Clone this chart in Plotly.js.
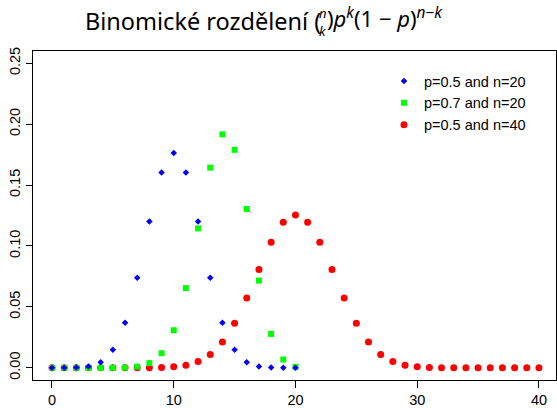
<!DOCTYPE html>
<html>
<head>
<meta charset="utf-8">
<script src="https://cdn.plot.ly/plotly-3.0.1.min.js"></script>
<style>html,body{margin:0;padding:0;background:#fff;}#chart{width:557px;height:408px;}</style>
</head>
<body>
<div id="chart"></div>
<script>
// k values
const k20 = [0,1,2,3,4,5,6,7,8,9,10,11,12,13,14,15,16,17,18,19,20];
const k40 = [0,1,2,3,4,5,6,7,8,9,10,11,12,13,14,15,16,17,18,19,20,21,22,23,24,25,26,27,28,29,30,31,32,33,34,35,36,37,38,39,40];
// P(X=k) for p=0.5, n=20
const pBlue = [0.0000,0.0000,0.0002,0.0011,0.0046,0.0148,0.0370,0.0739,0.1201,0.1602,0.1762,0.1602,0.1201,0.0739,0.0370,0.0148,0.0046,0.0011,0.0002,0.0000,0.0000];
// P(X=k) for p=0.7, n=20
const pGreen = [0.0000,0.0000,0.0000,0.0000,0.0000,0.0000,0.0002,0.0010,0.0039,0.0120,0.0308,0.0654,0.1144,0.1643,0.1916,0.1789,0.1304,0.0716,0.0278,0.0068,0.0008];
// P(X=k) for p=0.5, n=40
const pRed = [0.0000,0.0000,0.0000,0.0000,0.0000,0.0000,0.0000,0.0000,0.0001,0.0002,0.0008,0.0021,0.0051,0.0109,0.0211,0.0366,0.0572,0.0807,0.1031,0.1194,0.1254,0.1194,0.1031,0.0807,0.0572,0.0366,0.0211,0.0109,0.0051,0.0021,0.0008,0.0002,0.0001,0.0000,0.0000,0.0000,0.0000,0.0000,0.0000,0.0000,0.0000];
const labels = ['p=0.5 and n=20','p=0.7 and n=20','p=0.5 and n=40'];
const xTicks = [0,10,20,30,40];
const yTicks = [0,0.05,0.10,0.15,0.20,0.25];

const W = 557, H = 408, L = 33, R = 1, T = 51, B = 28;
const pw = W - L - R, ph = H - T - B;
const px = v => (v - L) / pw;
const py = v => (H - B - v) / ph;

const traces = [
  {x: k40, y: pRed, name: labels[2], type: 'scatter', mode: 'markers',
   marker: {symbol: 'circle', size: 7, color: '#ff0000'}, cliponaxis: false},
  {x: k20, y: pGreen, name: labels[1], type: 'scatter', mode: 'markers',
   marker: {symbol: 'square', size: 6, color: '#00ff00'}, cliponaxis: false},
  {x: k20, y: pBlue, name: labels[0], type: 'scatter', mode: 'markers',
   marker: {symbol: 'diamond', size: 5, color: '#0000ff'}, cliponaxis: false}
];

const tfam = 'Noto Sans, Open Sans, sans-serif';
const layout = {
  width: W, height: H,
  margin: {l: L, r: R, t: T, b: B, pad: 0},
  paper_bgcolor: '#fff', plot_bgcolor: '#fff',
  font: {family: 'Liberation Sans, Arial, sans-serif', size: 14.5, color: '#000'},
  showlegend: true,
  legend: {x: px(384), y: py(65), xanchor: 'left', yanchor: 'top', traceorder: 'reversed',
           bgcolor: 'rgba(0,0,0,0)', font: {size: 14.5}, itemwidth: 30, tracegroupgap: 0},
  xaxis: {range: [-1.56, 41.4], tickvals: xTicks, ticktext: xTicks.map(String),
          showgrid: false, zeroline: false, showline: true, mirror: true, linecolor: '#000', linewidth: 1,
          ticks: 'outside', ticklen: 7, tickcolor: '#000', tickfont: {size: 14.5}},
  yaxis: {range: [-0.01, 0.26], tickvals: yTicks, ticktext: yTicks.map(v => v.toFixed(2)),
          tickangle: -90, showgrid: false, zeroline: false, showline: true, mirror: true, linecolor: '#000', linewidth: 1,
          ticks: 'outside', ticklen: 6, tickcolor: '#000', tickfont: {size: 14.5}},
  annotations: [
    {xref: 'paper', yref: 'paper', x: px(84), y: py(21), xanchor: 'left', yanchor: 'middle', showarrow: false,
     borderpad: 0, text: 'Binomické rozdělení (', font: {family: tfam, size: 23.5, color: '#000'}},
    {xref: 'paper', yref: 'paper', x: px(322.5), y: py(13), xanchor: 'center', yanchor: 'middle', showarrow: false,
     borderpad: 0, text: '<i>n</i>', font: {family: tfam, size: 13, color: '#000'}},
    {xref: 'paper', yref: 'paper', x: px(322.5), y: py(31), xanchor: 'center', yanchor: 'middle', showarrow: false,
     borderpad: 0, text: '<i>k</i>', font: {family: tfam, size: 13, color: '#000'}},
    {xref: 'paper', yref: 'paper', x: px(326), y: py(17), xanchor: 'left', yanchor: 'middle', showarrow: false,
     borderpad: 0, text: ')<i>p</i><sup><i>k</i></sup>(1 − <i>p</i>)<sup><i>n</i>−<i>k</i></sup>', font: {family: tfam, size: 22, color: '#000'}}
  ]
};
Plotly.newPlot('chart', traces, layout, {staticPlot: true, displayModeBar: false});
</script>
</body>
</html>
